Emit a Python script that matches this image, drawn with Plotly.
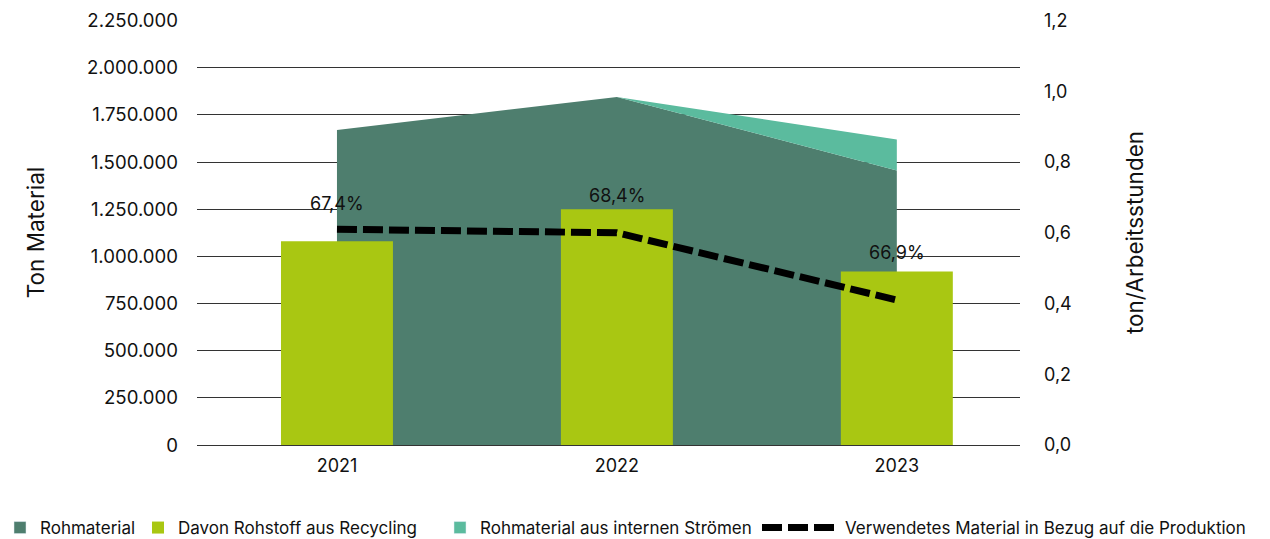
import plotly.graph_objects as go

years = ["2021", "2022", "2023"]
rohmaterial = [1670000, 1845000, 1455000]
intern = [0, 0, 165000]
recycling = [1080000, 1250000, 920000]
pct_labels = ["67,4%", "68,4%", "66,9%"]
pct_shift = [38, 14, 19]
ton_per_hour = [0.61, 0.60, 0.41]

C_DARK = "#4e7e6e"
C_LIME = "#a9c712"
C_TEAL = "#5bbb9e"
FONT = "Inter"
TXT = "#111"

W, H = 1262, 531  # page body has an 8px margin
ML, MR, MT, MB = 189, 250, 12, 94
PW = W - ML - MR

fig = go.Figure()
# areas (bottom layer)
fig.add_trace(go.Scatter(
    x=years, y=rohmaterial, name="Rohmaterial", stackgroup="one",
    mode="none", fillcolor=C_DARK, showlegend=False, hoverinfo="skip"))
fig.add_trace(go.Scatter(
    x=years, y=intern, name="Rohmaterial aus internen Strömen", stackgroup="one",
    mode="none", fillcolor=C_TEAL, showlegend=False, hoverinfo="skip"))
# legend proxies (square swatches) for the areas
fig.add_trace(go.Bar(x=[None], y=[None], name="Rohmaterial",
                     marker=dict(color=C_DARK), legend="legend"))
fig.add_trace(go.Bar(x=[None], y=[None], name="Rohmaterial aus internen Strömen",
                     marker=dict(color=C_TEAL), legend="legend3"))
# bars on an overlay axis so they sit above the areas
fig.add_trace(go.Bar(
    x=years, y=recycling, name="Davon Rohstoff aus Recycling", yaxis="y2",
    marker=dict(color=C_LIME, line=dict(width=0)), width=0.4, legend="legend2"))
# line on the right axis
fig.add_trace(go.Scatter(
    x=years, y=ton_per_hour, name="Verwendetes Material in Bezug auf die Produktion",
    mode="lines", line=dict(color="black", width=7, dash="20px,6px"),
    yaxis="y3", legend="legend4"))

for i, (v, t, s) in enumerate(zip(recycling, pct_labels, pct_shift)):
    fig.add_annotation(x=i, y=v, xref="x", yref="y", text=t, showarrow=False,
                       yanchor="middle", yshift=s,
                       font=dict(family=FONT, size=18, color=TXT))

YMAX = 2253000
leg_common = dict(orientation="h", yref="container",
                  xanchor="left", yanchor="middle", y=1 - 520 / H,
                  font=dict(family=FONT, size=17, color=TXT), bgcolor="rgba(0,0,0,0)")

fig.update_layout(
    width=W, height=H,
    margin=dict(l=ML, r=MR, t=MT, b=MB, autoexpand=False),
    plot_bgcolor="white", paper_bgcolor="white",
    separators=",.",
    barmode="overlay",
    font=dict(family=FONT, size=17, color=TXT),
    showlegend=True,
    legend=dict(xref="paper", x=(-8 - ML) / PW, **leg_common),
    legend2=dict(xref="paper", x=(130 - ML) / PW, **leg_common),
    legend3=dict(xref="paper", x=(432 - ML) / PW, **leg_common),
    legend4=dict(xref="paper", x=(749 - ML) / PW, itemwidth=78, **leg_common),
    xaxis=dict(type="category", range=[-0.5, 2.44], showgrid=False, zeroline=False,
               showline=False, ticks="", ticklabelstandoff=8,
               tickfont=dict(size=18)),
    yaxis=dict(range=[0, YMAX], tickvals=[i * 250000 for i in range(10)],
               tickformat=",d",
               showgrid=True, gridcolor="#333", gridwidth=1, zeroline=True,
               zerolinecolor="#333", zerolinewidth=1, ticks="",
               ticklabelstandoff=18, tickfont=dict(size=18.6),
               title=dict(text="Ton Material", font=dict(size=22.5), standoff=36)),
    yaxis2=dict(range=[0, YMAX], overlaying="y", visible=False, showgrid=False),
    yaxis3=dict(range=[0, 1.2 * YMAX / 2250000], tickvals=[0, 0.2, 0.4, 0.6, 0.8, 1.0, 1.2],
                tickformat=".1f", overlaying="y",
                side="right", showgrid=False, zeroline=False, ticks="",
                ticklabelstandoff=23, tickfont=dict(size=18),
                title=dict(text="ton/Arbeitsstunden", font=dict(size=22.5), standoff=56)),
)

fig.write_html("out.html")
